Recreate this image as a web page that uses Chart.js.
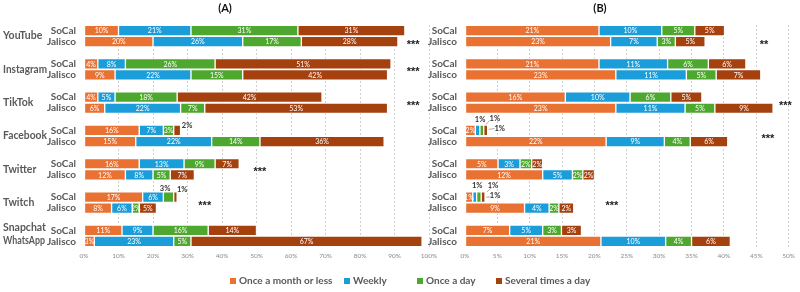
<!DOCTYPE html>
<html><head><meta charset="utf-8">
<script src="https://cdn.jsdelivr.net/npm/chart.js@4"></script>
<style>
html,body{margin:0;padding:0;background:#fff;}
#wrap{position:relative;width:800px;height:292px;overflow:hidden;background:#fff;}
#cA{position:absolute;left:0;top:0;width:450px;height:292px;}
#cB{position:absolute;left:400px;top:0;width:400px;height:292px;}
.leg{position:absolute;top:273px;font:bold 10px Lato,sans-serif;color:#595959;white-space:nowrap;line-height:14px;}
.leg i{display:inline-block;width:6px;height:6px;margin-right:3px;vertical-align:0px;}
</style></head><body>
<div id="wrap">
<canvas id="cA" width="450" height="292"></canvas>
<canvas id="cB" width="400" height="292"></canvas>
<div id="legend"></div>
</div>
<script>
// ---------- data ----------
const platformLines = [['YouTube'],['Instagram'],['TikTok'],['Facebook'],['Twitter'],['Twitch'],['Snapchat','WhatsApp']];
const regions = ['SoCal','Jalisco'];
const seriesNames = ['Once a month or less','Weekly','Once a day','Several times a day'];
const panelTitles = ['(A)','(B)'];
const tickStepA = 10, tickMaxA = 100;
const tickStepB = 5, tickMaxB = 50;

// Panel A (%)
const aSoCalMonthly = [10, 4, 4, 16, 16, 17, 11];
const aSoCalWeekly  = [21, 8, 5, 7, 13, 6, 9];
const aSoCalDaily   = [31, 26, 18, 3, 9, 3, 16];
const aSoCalSeveral = [31, 51, 42, 2, 7, 1, 14];
const aJalMonthly   = [20, 9, 6, 15, 12, 8, 3];
const aJalWeekly    = [26, 22, 22, 22, 8, 6, 23];
const aJalDaily     = [17, 15, 7, 14, 5, 2, 5];
const aJalSeveral   = [28, 42, 53, 36, 7, 5, 67];

// Panel B (%)
const bSoCalMonthly = [20.7, 20.7, 15.5, 1.6, 5.1, 1.2, 6.9];
const bSoCalWeekly  = [9.7, 10.6, 10.0, 0.7, 3.4, 0.6, 5.1];
const bSoCalDaily   = [5.1, 6.3, 6.3, 0.6, 1.8, 0.7, 2.9];
const bSoCalSeveral = [4.6, 5.8, 4.8, 0.6, 1.7, 0.6, 3.1];
const bJalMonthly   = [22.5, 23.3, 23.3, 21.8, 12.0, 9.2, 21.0];
const bJalWeekly    = [7.2, 10.9, 10.7, 9.0, 4.6, 3.8, 10.0];
const bJalDaily     = [2.8, 4.6, 4.6, 4.0, 1.6, 1.5, 4.0];
const bJalSeveral   = [4.6, 6.9, 9.0, 5.8, 1.8, 2.3, 6.0];

// significance markers
const starsA = [
  {t:'***', row:1, x:95.4}, {t:'***', row:3.5, x:95.4}, {t:'***', row:6.5, x:95.4},
  {t:'***', row:12.5, x:51}, {t:'***', row:15.5, x:35}
];
const starsB = [
  {t:'**', row:1, x:46.2}, {t:'***', row:6.5, x:49.5}, {t:'***', row:9.5, x:46.8}, {t:'***', row:15.5, x:22.7}
];

// ---------- styles ----------
const colors = ['#E97132','#1B9DD9','#4EA72E','#A5400F'];
const FONT = 'Lato,"Liberation Sans",sans-serif';
const GRAY = '#595959';

// callouts for tiny segments (label outside)
const calloutsA = [
  {row:9, ds:3, anchor:'end', dx:6.5, dy:-5},
  {row:15, ds:2, anchor:'center', dx:-3.5, dy:-8.5},
  {row:15, ds:3, anchor:'end', dx:5, dy:-7}
];
const calloutsB = [
  {row:9, ds:1, anchor:'center', dx:2.5, dy:-11},
  {row:9, ds:2, anchor:'center', dx:13, dy:-12, leader:[4,-6,8,-10]},
  {row:9, ds:3, anchor:'end', dx:12, dy:-2, leader:[1,-1,7,-2]},
  {row:15, ds:1, anchor:'center', dx:2.5, dy:-11},
  {row:15, ds:2, anchor:'center', dx:14, dy:-11, leader:[8,-5,12,-9]},
  {row:15, ds:3, anchor:'end', dx:10, dy:-1, leader:[1,0,6,0]}
];

// ---------- helpers ----------
function interleave(soc, jal){
  const out = [];
  for (let g = 0; g < soc.length; g++){
    out.push(soc[g], jal[g]);
    if (g < soc.length - 1) out.push(null);
  }
  return out;
}
const rowLabels = [];
for (let g = 0; g < platformLines.length; g++){
  rowLabels.push(regions[0], regions[1]);
  if (g < platformLines.length - 1) rowLabels.push('');
}

function makePlugin(title, stars, callouts, drawPlatforms){
  return {
    id: 'decor',
    afterDatasetsDraw(chart){
      const ctx = chart.ctx;
      const xs = chart.scales.x, ys = chart.scales.y;
      const isCallout = (ds,row) => callouts.some(c => c.ds===ds && c.row===row);
      ctx.save();
      ctx.font = '7px ' + FONT;
      ctx.fillStyle = '#fff';
      ctx.textAlign = 'center';
      ctx.textBaseline = 'middle';
      chart.data.datasets.forEach((ds, i) => {
        const meta = chart.getDatasetMeta(i);
        meta.data.forEach((el, j) => {
          const v = ds.data[j];
          if (v == null || v <= 0 || isCallout(i,j)) return;
          ctx.fillText(Math.round(v) + '%', (el.x + el.base)/2, el.y + 0.5);
        });
      });
      ctx.font = 'bold 7.5px ' + FONT;
      ctx.fillStyle = '#333';
      ctx.strokeStyle = '#9a9a9a';
      ctx.lineWidth = 0.8;
      callouts.forEach(c => {
        const el = chart.getDatasetMeta(c.ds).data[c.row];
        const v = chart.data.datasets[c.ds].data[c.row];
        const ax = c.anchor === 'end' ? el.x : (el.x + el.base)/2;
        const ay = el.y;
        if (c.leader){
          ctx.beginPath();
          ctx.moveTo(ax + c.leader[0], ay + c.leader[1]);
          ctx.lineTo(ax + c.leader[2], ay + c.leader[3]);
          ctx.stroke();
        }
        ctx.fillText(Math.round(v) + '%', ax + c.dx, ay + c.dy);
      });
      ctx.font = 'bold 11px "Liberation Sans",Arial,sans-serif';
      ctx.fillStyle = '#222';
      stars.forEach(s => {
        ctx.fillText(s.t, xs.getPixelForValue(s.x), ys.getPixelForValue(s.row) + 3);
      });
      ctx.restore();
    },
    afterDraw(chart){
      const ctx = chart.ctx;
      const ys = chart.scales.y;
      ctx.save();
      ctx.font = 'bold 11px ' + FONT;
      ctx.fillStyle = '#111';
      ctx.textAlign = 'center';
      ctx.textBaseline = 'middle';
      ctx.fillText(title, chart.width/2, 8);
      if (drawPlatforms){
        ctx.font = 'bold 10.5px ' + FONT;
        ctx.fillStyle = GRAY;
        ctx.textAlign = 'left';
        const maxW = 44;
        platformLines.forEach((lines, g) => {
          const mid = (ys.getPixelForValue(3*g) + ys.getPixelForValue(3*g+1))/2;
          if (lines.length === 1){
            ctx.fillText(lines[0], 3, mid, maxW);
          } else {
            ctx.fillText(lines[0], 3, mid - 8, maxW);
            ctx.fillText(lines[1], 3, mid + 5, 42);
          }
        });
      }
      ctx.restore();
    }
  };
}

function makeChart(canvasId, title, soc, jal, max, step, yWidth, padRight, stars, callouts, drawPlatforms){
  const datasets = seriesNames.map((name, i) => ({
    label: name,
    data: interleave(soc[i], jal[i]),
    backgroundColor: colors[i],
    borderColor: '#ffffff',
    borderWidth: 1,
    borderSkipped: false,
    barThickness: 10.5
  }));
  return new Chart(document.getElementById(canvasId), {
    type: 'bar',
    data: { labels: rowLabels, datasets },
    options: {
      indexAxis: 'y',
      responsive: false,
      animation: false,
      events: [],
      layout: { padding: { top: 25, bottom: 25, left: 0, right: padRight } },
      plugins: { legend: { display: false }, tooltip: { enabled: false }, title: { display: false } },
      scales: {
        x: {
          stacked: true, min: 0, max: max,
          ticks: { stepSize: step, color: '#8c8c8c', font: { size: 6.5, family: FONT }, padding: 5,
                   callback: v => v + '%' },
          grid: { color: ctx => ctx.tick && ctx.tick.value === 0 ? 'rgba(0,0,0,0)' : '#cfcfcf',
                  lineWidth: 1, drawTicks: false },
          border: { display: false, dash: [2, 2] },
          afterFit(scale){ scale.height = 20; }
        },
        y: {
          stacked: true,
          ticks: { color: GRAY, font: { size: 10, weight: 'bold', family: FONT }, padding: 8, autoSkip: false },
          grid: { display: false, drawTicks: false },
          border: { display: false },
          afterFit(scale){ scale.width = yWidth; }
        }
      }
    },
    plugins: [makePlugin(title, stars, callouts, drawPlatforms)]
  });
}

makeChart('cA', panelTitles[0],
  [aSoCalMonthly, aSoCalWeekly, aSoCalDaily, aSoCalSeveral],
  [aJalMonthly, aJalWeekly, aJalDaily, aJalSeveral],
  tickMaxA, tickStepA, 84, 21, starsA, calloutsA, true);
makeChart('cB', panelTitles[1],
  [bSoCalMonthly, bSoCalWeekly, bSoCalDaily, bSoCalSeveral],
  [bJalMonthly, bJalWeekly, bJalDaily, bJalSeveral],
  tickMaxB, tickStepB, 65, 9, starsB, calloutsB, false);

// legend (HTML)
const legendLeft = [230, 344, 417, 496];
const legend = document.getElementById('legend');
seriesNames.forEach((name, i) => {
  const d = document.createElement('div');
  d.className = 'leg';
  d.style.left = legendLeft[i] + 'px';
  const sw = document.createElement('i');
  sw.style.background = colors[i];
  d.appendChild(sw);
  d.appendChild(document.createTextNode(name));
  legend.appendChild(d);
});
</script>
</body></html>
